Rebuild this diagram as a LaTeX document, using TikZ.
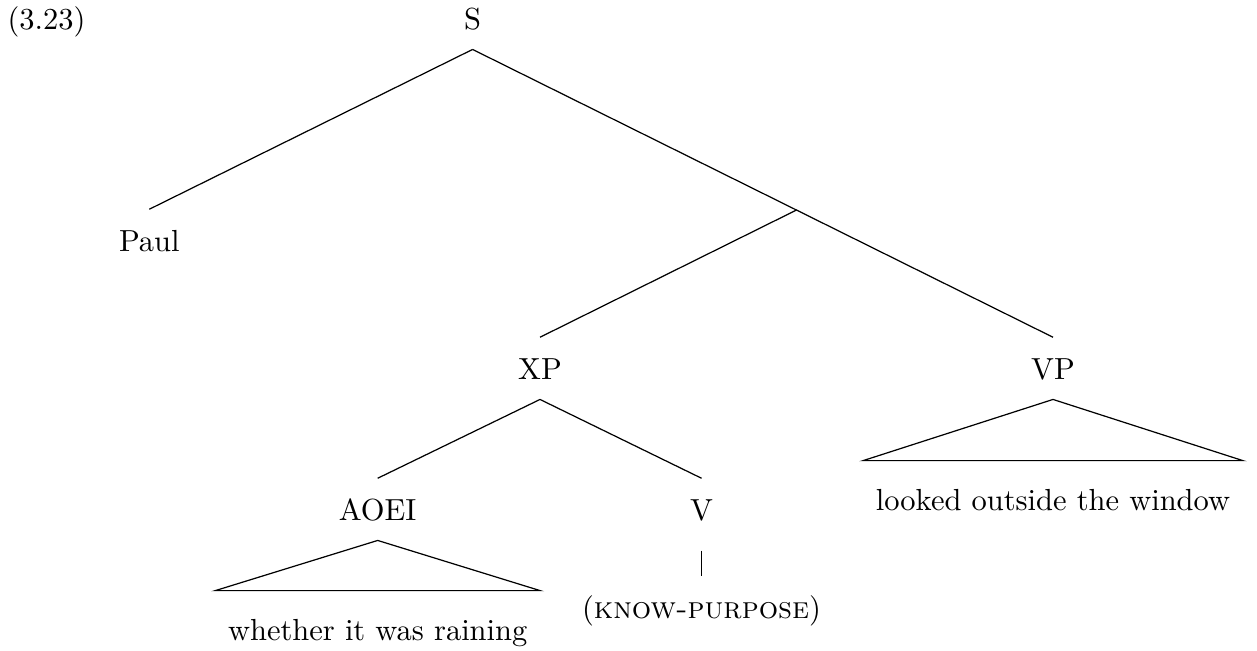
\documentclass[tikz,border=0pt]{standalone}
\usepackage{tikz}
\usetikzlibrary{calc}

\begin{document}
\begin{tikzpicture}[x=0.328pt, y=-0.328pt,
    cat/.style={anchor=base, text height=7pt, text depth=0pt, inner sep=6.5pt},
    leaf/.style={anchor=base, text height=7pt, text depth=2pt, inner xsep=4pt, inner ysep=9pt}]
    \useasboundingbox (0,0) rectangle (1257,650);
    % example number
    \node[anchor=base west, inner sep=0pt] (exnum) at (7,29) {(3.23)};
    % categories
    \node[cat] (S)    at (472.6,29)  {S};
    \node[cat] (Paul) at (149.3,251) {Paul};
    \node[cat] (XP)   at (540,379)   {XP};
    \node[cat] (VP)   at (1053,379)  {VP};
    \node[cat] (AOEI) at (377.7,520) {AOEI};
    \node[cat] (V)    at (701.5,520) {V};
    \node[cat] (kp)   at (701.5,618) {(\textsc{know-purpose})};
    % leaves under triangles
    \node[leaf] (rain)   at (377.7,640) {whether it was raining};
    \node[leaf] (window) at (1053,510)  {looked outside the window};
    % unlabelled branching point on the S--VP line
    \coordinate (j) at ($(S.south)!0.558!(VP.north)$);
    \draw (S.south) -- (Paul.north);
    \draw (S.south) -- (j) -- (VP.north);
    \draw (j) -- (XP.north);
    \draw (XP.south) -- (AOEI.north);
    \draw (XP.south) -- (V.north);
    \draw[shorten <=3.3pt] (V.south) -- (kp.north);
    \draw (AOEI.south) -- (rain.north west) -- (rain.north east) -- cycle;
    \draw (VP.south) -- (window.north west) -- (window.north east) -- cycle;
\end{tikzpicture}
\end{document}
